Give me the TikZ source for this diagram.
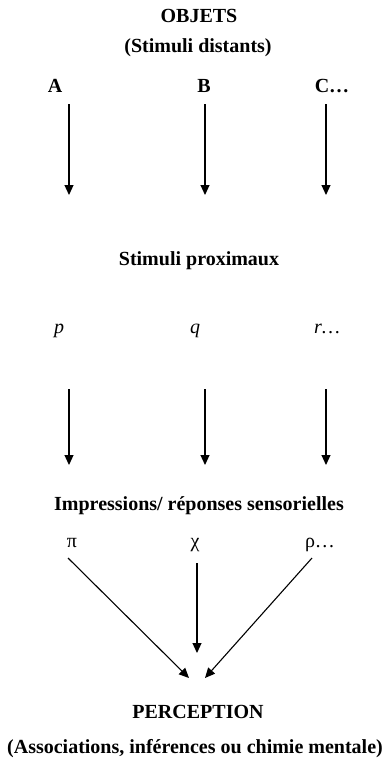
\documentclass[tikz,border=0pt]{standalone}
\usepackage{fontspec}
\setmainfont{Liberation Serif}
\usetikzlibrary{arrows.meta}

\begin{document}
\begin{tikzpicture}[
    x=1pt,y=-1pt,
    font=\fontsize{20}{24}\selectfont,
    lbl/.style={anchor=base,inner sep=0pt},
    head/.style={lbl,font=\fontsize{20}{24}\selectfont\bfseries},
    arrow/.style={-{Triangle[length=10pt,width=9pt]},line width=1.1pt}
  ]
    \useasboundingbox (0,0) rectangle (391,758);
    % titres
    \node[head] (obj) at (199,22.5) {OBJETS};
    \node[head] (dist) at (198,52) {(Stimuli distants)};
    \node[head] (prox) at (199,265) {Stimuli proximaux};
    \node[head] (impr) at (199,510) {Impressions/ réponses sensorielles};
    \node[head] (perc) at (198,718) {PERCEPTION};
    \node[head] (assoc) at (195,753) {(Associations, inférences ou chimie mentale)};
    % stimuli distants
    \node[head] (a) at (55,92) {A};
    \node[head] (b) at (204,92) {B};
    \node[head] (c) at (332,92) {C…};
    % stimuli proximaux
    \node[lbl,font=\fontsize{20}{24}\selectfont\itshape] (p) at (59,333) {p};
    \node[lbl,font=\fontsize{20}{24}\selectfont\itshape] (q) at (195,333) {q};
    \node[lbl,font=\fontsize{20}{24}\selectfont\itshape] (r) at (327,333) {r…};
    % impressions
    \node[lbl] (pi) at (72,547) {π};
    \node[lbl] (chi) at (195,547) {χ};
    \node[lbl] (rho) at (320,547) {ρ…};
    % fleches
    \coordinate (a1) at (69,104);  \coordinate (a2) at (69,195);
    \coordinate (b1) at (205,104); \coordinate (b2) at (205,195);
    \coordinate (c1) at (326,104); \coordinate (c2) at (326,195);
    \coordinate (p1) at (69,389);  \coordinate (p2) at (69,465);
    \coordinate (q1) at (205,389); \coordinate (q2) at (205,465);
    \coordinate (r1) at (326,389); \coordinate (r2) at (326,465);
    \coordinate (pi1) at (68,558);   \coordinate (pi2) at (189,678);
    \coordinate (chi1) at (197,563); \coordinate (chi2) at (197,653);
    \coordinate (rho1) at (312,558); \coordinate (rho2) at (205,678);
    \draw[arrow] (a1) -- (a2);
    \draw[arrow] (b1) -- (b2);
    \draw[arrow] (c1) -- (c2);
    \draw[arrow] (p1) -- (p2);
    \draw[arrow] (q1) -- (q2);
    \draw[arrow] (r1) -- (r2);
    \draw[arrow] (pi1) -- (pi2);
    \draw[arrow] (chi1) -- (chi2);
    \draw[arrow] (rho1) -- (rho2);
\end{tikzpicture}
\end{document}
